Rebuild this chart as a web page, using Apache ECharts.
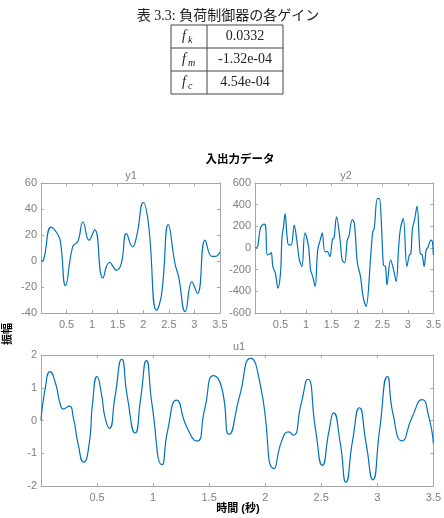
<!DOCTYPE html>
<html>
<head>
<meta charset="utf-8">
<script src="https://cdn.jsdelivr.net/npm/echarts@6/dist/echarts.min.js"></script>
<style>
    html, body {margin: 0; padding: 0; background: #fff;}
    #main {width: 444px; height: 518px;}
</style>
</head>
<body>
<div id="main"></div>
<script>
// 表 3.3 の値
var gainSubs = ['k', 'm', 'c'];
var gainValues = ['0.0332', '-1.32e-04', '4.54e-04'];

// y1
var y1T = [0, 0.05, 0.20, 0.32, 0.38, 0.48, 0.62, 0.72, 0.82, 0.94, 1.05, 1.21, 1.34, 1.48, 1.57, 1.67, 1.79, 1.87, 2.00, 2.10, 2.26, 2.36, 2.49, 2.62, 2.69, 2.82, 2.95, 3.06, 3.21, 3.34, 3.40, 3.50];
var y1V = [0, 1, 26, 21, 15, -19, 11, 15, 30, 16, 24, -13, -1, -7, -2, 21, 11, 19, 45, 29, -38, -25, 28, -2, -12, -39, -16, -25, 16, 3.5, 3.5, 7];

// y2
var y2T = [0, 0.05, 0.11, 0.18, 0.21, 0.24, 0.29, 0.32, 0.35, 0.40, 0.45, 0.50, 0.53, 0.56, 0.59, 0.63, 0.66, 0.71, 0.77, 0.82, 0.87, 0.92, 0.98, 1.05, 1.09, 1.13, 1.18, 1.23, 1.28, 1.32, 1.37, 1.42, 1.47, 1.52, 1.55, 1.60, 1.67, 1.71, 1.76, 1.81, 1.84, 1.91, 1.95, 2.01, 2.07, 2.12, 2.18, 2.27, 2.31, 2.34, 2.40, 2.44, 2.48, 2.52, 2.56, 2.59, 2.66, 2.72, 2.77, 2.82, 2.85, 2.91, 2.98, 3.03, 3.06, 3.09, 3.13, 3.18, 3.24, 3.28, 3.32, 3.36, 3.40, 3.45, 3.48, 3.50];
var y2V = [0, 12, 190, 220, 195, -64, -55, -43, -171, -232, -370, -232, 104, 196, 318, 104, 28, 28, 211, 73, -110, -171, 141, 12, -202, -260, -355, -18, 73, 141, -34, -34, -80, 80, 89, 288, 73, -110, -135, 73, 104, 263, 227, -141, -263, -447, -539, -80, 150, 180, 456, 456, 227, -156, -171, -340, -110, -202, -309, 12, 165, 272, -171, -64, -49, 180, 257, 386, -49, -64, -171, -18, 12, 73, 60, -64];

// u1
var u1T = [0, 0.04, 0.08, 0.13, 0.17, 0.20, 0.25, 0.29, 0.33, 0.38, 0.43, 0.46, 0.50, 0.54, 0.57, 0.61, 0.66, 0.72, 0.77, 0.84, 0.89, 0.94, 0.99, 1.08, 1.13, 1.21, 1.30, 1.39, 1.46, 1.54, 1.61, 1.68, 1.77, 1.87, 1.96, 2.08, 2.15, 2.21, 2.25, 2.32, 2.38, 2.45, 2.51, 2.57, 2.61, 2.67, 2.72, 2.78, 2.84, 2.90, 2.96, 3.02, 3.09, 3.14, 3.22, 3.31, 3.40, 3.46, 3.50];
var u1V = [0, 1.03, 1.49, 1.13, 0.52, 0.35, 0.44, 0.06, -0.7, -1.27, -0.7, 0.52, 1.34, 0.8, 0.11, -0.24, 0.72, 1.87, 0.72, -0.38, 0.7, 1.83, 0.5, -1.35, -0.3, 0.62, -0.2, -0.63, 0.35, 1.37, 1.03, -0.42, 0.72, 1.9, 1.03, -1.47, -0.6, -0.35, -0.45, 0.5, 1.26, -0.3, -1.37, -0.3, 0.23, -0.7, -1.88, -0.6, 0.39, -0.7, -1.81, -0.3, 1.34, 0.2, -0.62, 0.1, 0.64, 0.1, -0.7];

function pairs(t, v) {
    return t.map(function (x, i) { return [x, v[i]]; });
}

var sans = 'Liberation Sans, Arial, Noto Sans CJK JP, sans-serif';
var serif = 'Liberation Serif, DejaVu Serif, Noto Sans CJK JP, serif';
var lineCol = '#0072BD';
var axisCol = '#a6a6a6';
var labelCol = '#7f7f7f';

function xAx(grid, pos) {
    return {
        type: 'value', gridIndex: grid, position: pos, min: 0, max: 3.5, interval: 0.5,
        axisLine: {show: true, onZero: false, lineStyle: {color: axisCol}},
        axisTick: {show: true, inside: true, length: 3, lineStyle: {color: axisCol}},
        axisLabel: {show: pos === 'bottom', showMinLabel: false, margin: 6, color: labelCol, fontSize: 11, fontFamily: sans},
        splitLine: {show: false}
    };
}
function yAx(grid, pos, mn, mx, step) {
    return {
        type: 'value', gridIndex: grid, position: pos, min: mn, max: mx, interval: step,
        axisLine: {show: true, onZero: false, lineStyle: {color: axisCol}},
        axisTick: {show: true, inside: true, length: 3, lineStyle: {color: axisCol}},
        axisLabel: {show: pos === 'left', margin: 4, color: labelCol, fontSize: 11, fontFamily: sans},
        splitLine: {show: false}
    };
}
function ser(t, v, idx, sm) {
    return {
        type: 'line', xAxisIndex: idx, yAxisIndex: idx, data: pairs(t, v),
        smooth: sm, showSymbol: false, symbol: 'none', animation: false,
        lineStyle: {color: lineCol, width: 1.2}
    };
}

// 表
var tbl = [];
var tx = [171, 207, 283], ty = [25, 48, 71, 94];
for (var r = 0; r < ty.length; r++) {
    tbl.push({type: 'line', shape: {x1: tx[0], y1: ty[r], x2: tx[2], y2: ty[r]}, style: {stroke: '#444', lineWidth: 1}});
}
tx.forEach(function (x) {
    tbl.push({type: 'line', shape: {x1: x, y1: ty[0], x2: x, y2: ty[3]}, style: {stroke: '#444', lineWidth: 1}});
});
gainSubs.forEach(function (s, i) {
    var cy = (ty[i] + ty[i + 1]) / 2;
    tbl.push({type: 'text', x: 184, y: cy, style: {text: 'f', font: 'italic 14px ' + serif, fill: '#222', align: 'center', verticalAlign: 'middle'}});
    tbl.push({type: 'text', x: 188, y: cy + 4, style: {text: s, font: 'italic 10px ' + serif, fill: '#222', align: 'left', verticalAlign: 'middle'}});
    tbl.push({type: 'text', x: 245, y: cy, style: {text: gainValues[i], font: '14px ' + serif, fill: '#222', align: 'center', verticalAlign: 'middle'}});
});
tbl.push({type: 'text', x: 228, y: 16, style: {text: '表 3.3: 負荷制御器の各ゲイン', font: '14px ' + serif, fill: '#222', align: 'center', verticalAlign: 'middle'}});

// 見出し・軸名
var labels = [
    {type: 'text', x: 240, y: 160, style: {text: '入出力データ', font: 'bold 11.5px ' + sans, fill: '#000', align: 'center', verticalAlign: 'middle'}},
    {type: 'text', x: 131, y: 176, style: {text: 'y1', font: '11px ' + sans, fill: labelCol, align: 'center', verticalAlign: 'middle'}},
    {type: 'text', x: 346, y: 176, style: {text: 'y2', font: '11px ' + sans, fill: labelCol, align: 'center', verticalAlign: 'middle'}},
    {type: 'text', x: 239, y: 347, style: {text: 'u1', font: '11px ' + sans, fill: labelCol, align: 'center', verticalAlign: 'middle'}},
    {type: 'text', x: 238, y: 509, style: {text: '時間 (秒)', font: 'bold 11px ' + sans, fill: '#000', align: 'center', verticalAlign: 'middle'}},
    {type: 'text', x: 8, y: 334, rotation: Math.PI / 2, style: {text: '振幅', font: 'bold 11px ' + sans, fill: '#000', align: 'center', verticalAlign: 'middle'}}
];

var chart = echarts.init(document.getElementById('main'));
var option = {
    backgroundColor: '#fff',
    animation: false,
    grid: [
        {left: 41, top: 183, width: 179, height: 130},
        {left: 255, top: 183, width: 180, height: 130},
        {left: 41, top: 355, width: 394, height: 131}
    ],
    xAxis: [xAx(0, 'bottom'), xAx(1, 'bottom'), xAx(2, 'bottom'), xAx(0, 'top'), xAx(1, 'top'), xAx(2, 'top')],
    yAxis: [
        yAx(0, 'left', -40, 60, 20), yAx(1, 'left', -600, 600, 200), yAx(2, 'left', -2, 2, 1),
        yAx(0, 'right', -40, 60, 20), yAx(1, 'right', -600, 600, 200), yAx(2, 'right', -2, 2, 1)
    ],
    series: [
        ser(y1T, y1V, 0, 0.5),
        ser(y2T, y2V, 1, 0.35),
        ser(u1T, u1V, 2, 0.6)
    ],
    graphic: tbl.concat(labels)
};
chart.setOption(option);

window.addEventListener('resize', function () {
    chart.resize();
});
</script>
</body>
</html>
